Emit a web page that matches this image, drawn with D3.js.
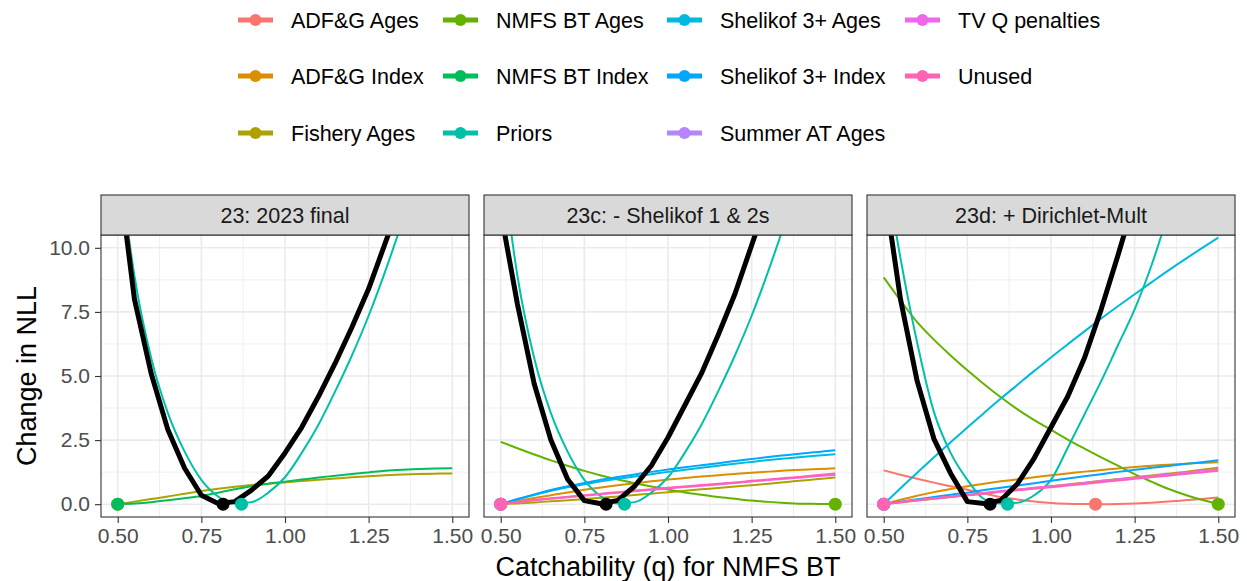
<!DOCTYPE html>
<html>
<head>
<meta charset="utf-8">
<script src="https://cdn.jsdelivr.net/npm/d3@7"></script>
<style>
body { margin: 0; background: #fff; }
text { font-family: "Liberation Sans", Arial, sans-serif; }
</style>
</head>
<body>
<div id="chart"></div>
<script>
// Width and height
var chart_width = 1247;
var chart_height = 581;

// catchability grid used for every profile
var qGrid = [0.50, 0.55, 0.60, 0.65, 0.70, 0.75, 0.80, 0.85, 0.90, 0.95, 1.00, 1.05, 1.10, 1.15, 1.20, 1.25, 1.30, 1.35, 1.40, 1.45, 1.50];

var components = ["ADF&G Ages", "ADF&G Index", "Fishery Ages", "NMFS BT Ages", "NMFS BT Index", "Priors",
  "Shelikof 3+ Ages", "Shelikof 3+ Index", "Summer AT Ages", "TV Q penalties", "Unused"];
var componentColors = ["#F8766D", "#DB8E00", "#AEA200", "#64B200", "#00BD5C", "#00C1A7",
  "#00BADE", "#00A6FF", "#B385FF", "#EF67EB", "#FF63B6"];

var panelTitles = ["23: 2023 final", "23c: - Shelikof 1 & 2s", "23d: + Dirichlet-Mult"];
var xTicks = [0.50, 0.75, 1.00, 1.25, 1.50];
var yTicks = [0, 2.5, 5, 7.5, 10];
var totalMinQ = [0.815, 0.815, 0.818];

// 23: 2023 final
var total_23 = [13.2, 8.0, 5.1, 2.9, 1.4, 0.35, 0.03, 0.1, 0.55, 1.1, 2.0, 3.0, 4.2, 5.5, 6.9, 8.4, 10.2, 12.0, 14.0, 16.0, 18.0];
var priors_23 = [13.8, 8.9, 5.7, 3.55, 2.05, 0.95, 0.3, 0.03, 0.08, 0.45, 1.05, 2.0, 3.1, 4.4, 5.8, 7.35, 9.1, 11.0, 13.0, 15.0, 17.0];
var fishAges_23 = [0, 0.1, 0.2, 0.3, 0.41, 0.51, 0.6, 0.68, 0.75, 0.8, 0.85, 0.9, 0.95, 1.0, 1.05, 1.09, 1.13, 1.16, 1.18, 1.19, 1.2];
var btIndex_23 = [0, 0.03, 0.08, 0.15, 0.23, 0.32, 0.45, 0.58, 0.7, 0.8, 0.88, 0.96, 1.04, 1.11, 1.18, 1.24, 1.3, 1.34, 1.37, 1.39, 1.4];
var mins_23 = [["Fishery Ages", 0.5], ["NMFS BT Index", 0.5], ["Priors", 0.87]];

// 23c: - Shelikof 1 & 2s
var total_23c = [11.4, 7.8, 4.7, 2.5, 0.97, 0.14, 0.02, 0.15, 0.7, 1.5, 2.6, 3.85, 5.1, 6.6, 8.2, 10.1, 12.0, 14.0, 16.5, 19.0, 21.5];
var priors_23c = [13.8, 8.9, 5.7, 3.55, 2.05, 0.95, 0.3, 0.03, 0.08, 0.45, 1.05, 2.0, 3.1, 4.4, 5.8, 7.35, 9.1, 11.0, 13.0, 15.0, 17.0];
var btAges_23c = [2.43, 2.18, 1.94, 1.71, 1.5, 1.3, 1.12, 0.96, 0.82, 0.69, 0.57, 0.46, 0.37, 0.28, 0.21, 0.14, 0.09, 0.05, 0.02, 0.01, 0];
var shelAges_23c = [0, 0.19, 0.36, 0.52, 0.66, 0.78, 0.89, 0.99, 1.08, 1.17, 1.26, 1.34, 1.42, 1.5, 1.58, 1.65, 1.72, 1.78, 1.84, 1.9, 1.95];
var shelIndex_23c = [0, 0.2, 0.38, 0.55, 0.7, 0.83, 0.95, 1.06, 1.16, 1.26, 1.35, 1.44, 1.52, 1.6, 1.68, 1.76, 1.84, 1.91, 1.98, 2.04, 2.1];
var adfgIndex_23c = [0, 0.12, 0.24, 0.35, 0.46, 0.56, 0.65, 0.74, 0.82, 0.89, 0.96, 1.02, 1.08, 1.13, 1.18, 1.23, 1.27, 1.31, 1.34, 1.37, 1.4];
var fishAges_23c = [0, 0.03, 0.07, 0.11, 0.15, 0.2, 0.25, 0.3, 0.36, 0.41, 0.47, 0.52, 0.58, 0.63, 0.69, 0.74, 0.8, 0.86, 0.92, 0.98, 1.04];
var tvq_23c = [0, 0.08, 0.15, 0.21, 0.27, 0.33, 0.39, 0.45, 0.5, 0.56, 0.61, 0.67, 0.72, 0.77, 0.83, 0.88, 0.94, 0.99, 1.04, 1.1, 1.14];
var unused_23c = [0, 0.09, 0.16, 0.23, 0.29, 0.35, 0.41, 0.47, 0.53, 0.58, 0.64, 0.69, 0.75, 0.8, 0.85, 0.91, 0.96, 1.02, 1.07, 1.14, 1.2];
var mins_23c = [["ADF&G Index", 0.5], ["Fishery Ages", 0.5], ["NMFS BT Ages", 1.5], ["Priors", 0.87],
  ["Shelikof 3+ Ages", 0.5], ["Shelikof 3+ Index", 0.5], ["TV Q penalties", 0.5], ["Unused", 0.5]];

// 23d: + Dirichlet-Mult
var total_23d = [12.5, 8.0, 4.8, 2.55, 1.2, 0.1, 0.03, 0.15, 0.8, 1.8, 3.0, 4.2, 5.7, 7.6, 9.7, 11.9, 14.2, 16.5, 18.9, 21.3, 23.8];
var priors_23d = [13.5, 9.6, 6.3, 3.6, 2.0, 0.95, 0.2, 0.03, 0.06, 0.35, 0.95, 2.2, 3.5, 4.8, 6.2, 7.6, 9.3, 11.3, 13.3, 15.5, 17.7];
var adfgAges_23d = [1.32, 1.15, 0.99, 0.84, 0.7, 0.56, 0.42, 0.28, 0.18, 0.1, 0.05, 0.02, 0.003, 0, 0.01, 0.03, 0.06, 0.1, 0.15, 0.2, 0.26];
var adfgIndex_23d = [0, 0.17, 0.33, 0.47, 0.59, 0.7, 0.8, 0.89, 0.97, 1.05, 1.13, 1.2, 1.27, 1.33, 1.39, 1.45, 1.5, 1.54, 1.58, 1.61, 1.64];
var fishAges_23d = [0, 0.07, 0.14, 0.21, 0.28, 0.35, 0.42, 0.49, 0.56, 0.63, 0.7, 0.77, 0.84, 0.91, 0.98, 1.05, 1.12, 1.19, 1.26, 1.34, 1.42];
var btAges_23d = [8.85, 7.95, 7.1, 6.42, 5.8, 5.22, 4.68, 4.17, 3.7, 3.28, 2.9, 2.52, 2.17, 1.83, 1.5, 1.17, 0.88, 0.6, 0.37, 0.17, 0];
var shelAges_23d = [0, 0.62, 1.23, 1.83, 2.42, 2.99, 3.56, 4.12, 4.66, 5.2, 5.72, 6.24, 6.74, 7.24, 7.72, 8.19, 8.65, 9.11, 9.55, 9.98, 10.4];
var shelIndex_23d = [0, 0.1, 0.19, 0.28, 0.37, 0.45, 0.55, 0.64, 0.73, 0.82, 0.91, 1.0, 1.09, 1.17, 1.26, 1.34, 1.42, 1.49, 1.57, 1.64, 1.71];
var tvq_23d = [0, 0.08, 0.16, 0.23, 0.3, 0.37, 0.44, 0.51, 0.57, 0.64, 0.7, 0.76, 0.83, 0.9, 0.97, 1.03, 1.1, 1.16, 1.23, 1.3, 1.36];
var unused_23d = [0, 0.08, 0.15, 0.22, 0.28, 0.35, 0.41, 0.48, 0.54, 0.6, 0.66, 0.73, 0.79, 0.86, 0.92, 0.99, 1.05, 1.11, 1.18, 1.24, 1.3];
var mins_23d = [["ADF&G Ages", 1.133], ["ADF&G Index", 0.5], ["Fishery Ages", 0.5], ["NMFS BT Ages", 1.5], ["Priors", 0.87],
  ["Shelikof 3+ Ages", 0.5], ["Shelikof 3+ Index", 0.5], ["TV Q penalties", 0.5], ["Unused", 0.5]];

var panels = [
  {total: total_23, mins: mins_23, series: [
    ["Fishery Ages", fishAges_23], ["NMFS BT Index", btIndex_23], ["Priors", priors_23]]},
  {total: total_23c, mins: mins_23c, series: [
    ["ADF&G Index", adfgIndex_23c], ["Fishery Ages", fishAges_23c], ["NMFS BT Ages", btAges_23c], ["Priors", priors_23c],
    ["Shelikof 3+ Ages", shelAges_23c], ["Shelikof 3+ Index", shelIndex_23c], ["TV Q penalties", tvq_23c], ["Unused", unused_23c]]},
  {total: total_23d, mins: mins_23d, series: [
    ["ADF&G Ages", adfgAges_23d], ["ADF&G Index", adfgIndex_23d], ["Fishery Ages", fishAges_23d], ["NMFS BT Ages", btAges_23d],
    ["Priors", priors_23d], ["Shelikof 3+ Ages", shelAges_23d], ["Shelikof 3+ Index", shelIndex_23d],
    ["TV Q penalties", tvq_23d], ["Unused", unused_23d]]}
];

var color = d3.scaleOrdinal().domain(components).range(componentColors);

var svg = d3.select("#chart").append("svg")
  .attr("width", chart_width)
  .attr("height", chart_height);

// layout of the facets
var panelLeft = [101, 484, 867];
var panelWidth = 368;
var stripTop = 195, plotTop = 235, plotBottom = 517;

var y = d3.scaleLinear().domain([-0.5, 10.5]).range([plotBottom, plotTop]);

panels.forEach(function(p, i) {
  var x = d3.scaleLinear().domain([0.45, 1.55]).range([panelLeft[i], panelLeft[i] + panelWidth]);
  var g = svg.append("g");

  g.append("clipPath").attr("id", "clip" + i).append("rect")
    .attr("x", panelLeft[i]).attr("y", plotTop).attr("width", panelWidth).attr("height", plotBottom - plotTop);

  //minor grid then major grid
  g.selectAll(".xminor").data([0.625, 0.875, 1.125, 1.375]).enter().append("line")
    .attr("x1", function(d) { return x(d); }).attr("x2", function(d) { return x(d); })
    .attr("y1", plotTop).attr("y2", plotBottom).attr("stroke", "#EBEBEB").attr("stroke-width", 0.8);
  g.selectAll(".yminor").data([1.25, 3.75, 6.25, 8.75]).enter().append("line")
    .attr("x1", panelLeft[i]).attr("x2", panelLeft[i] + panelWidth)
    .attr("y1", function(d) { return y(d); }).attr("y2", function(d) { return y(d); })
    .attr("stroke", "#EBEBEB").attr("stroke-width", 0.8);
  g.selectAll(".xmajor").data(xTicks).enter().append("line")
    .attr("x1", function(d) { return x(d); }).attr("x2", function(d) { return x(d); })
    .attr("y1", plotTop).attr("y2", plotBottom).attr("stroke", "#EBEBEB").attr("stroke-width", 1.6);
  g.selectAll(".ymajor").data(yTicks).enter().append("line")
    .attr("x1", panelLeft[i]).attr("x2", panelLeft[i] + panelWidth)
    .attr("y1", function(d) { return y(d); }).attr("y2", function(d) { return y(d); })
    .attr("stroke", "#EBEBEB").attr("stroke-width", 1.6);

  var plot = g.append("g").attr("clip-path", "url(#clip" + i + ")");

  var smooth = d3.line()
    .x(function(d, j) { return x(qGrid[j]); })
    .y(function(d) { return y(d); })
    .curve(d3.curveMonotoneX);
  var straight = d3.line()
    .x(function(d, j) { return x(qGrid[j]); })
    .y(function(d) { return y(d); });

  plot.selectAll(".comp").data(p.series).enter().append("path")
    .attr("d", function(d) { return smooth(d[1]); })
    .attr("fill", "none")
    .attr("stroke", function(d) { return color(d[0]); })
    .attr("stroke-width", 2);

  plot.append("path")
    .attr("d", straight(p.total))
    .attr("fill", "none")
    .attr("stroke", "black")
    .attr("stroke-width", 5)
    .attr("stroke-linejoin", "round");

  plot.selectAll(".minpt").data(p.mins).enter().append("circle")
    .attr("cx", function(d) { return x(d[1]); })
    .attr("cy", y(0))
    .attr("r", 6.5)
    .attr("fill", function(d) { return color(d[0]); });

  plot.append("circle")
    .attr("cx", x(totalMinQ[i])).attr("cy", y(0)).attr("r", 6.5).attr("fill", "black");

  //panel border
  g.append("rect")
    .attr("x", panelLeft[i]).attr("y", plotTop).attr("width", panelWidth).attr("height", plotBottom - plotTop)
    .attr("fill", "none").attr("stroke", "#333333").attr("stroke-width", 1.1);

  //strip
  g.append("rect")
    .attr("x", panelLeft[i]).attr("y", stripTop).attr("width", panelWidth).attr("height", plotTop - stripTop)
    .attr("fill", "#D9D9D9").attr("stroke", "#333333").attr("stroke-width", 1.1);
  g.append("text")
    .attr("x", panelLeft[i] + panelWidth / 2).attr("y", (stripTop + plotTop) / 2)
    .attr("dy", "0.36em")
    .attr("text-anchor", "middle")
    .attr("font-size", "21.5px")
    .attr("fill", "#1A1A1A")
    .text(panelTitles[i]);

  //x axis
  var xAxis = g.append("g")
    .attr("transform", "translate(0," + plotBottom + ")")
    .call(d3.axisBottom(x).tickValues(xTicks).tickFormat(d3.format(".2f")).tickSize(6).tickPadding(5));
  xAxis.select(".domain").remove();
  xAxis.selectAll(".tick line").attr("stroke", "#333333").attr("stroke-width", 1.1);
  xAxis.selectAll(".tick text").attr("fill", "#4D4D4D").attr("font-size", "21px").attr("font-family", "Liberation Sans, Arial, sans-serif");

  if (i === 0) {
    var yAxis = g.append("g")
      .attr("transform", "translate(" + panelLeft[i] + ",0)")
      .call(d3.axisLeft(y).tickValues(yTicks).tickFormat(d3.format(".1f")).tickSize(6).tickPadding(5));
    yAxis.select(".domain").remove();
    yAxis.selectAll(".tick line").attr("stroke", "#333333").attr("stroke-width", 1.1);
    yAxis.selectAll(".tick text").attr("fill", "#4D4D4D").attr("font-size", "21px").attr("font-family", "Liberation Sans, Arial, sans-serif");
  }
});

//axis titles
svg.append("text")
  .attr("x", (panelLeft[0] + panelLeft[2] + panelWidth) / 2).attr("y", 576)
  .attr("text-anchor", "middle").attr("font-size", "27px").attr("fill", "black")
  .text("Catchability (q) for NMFS BT");
svg.append("text")
  .attr("transform", "translate(36," + (plotTop + plotBottom) / 2 + ") rotate(-90)")
  .attr("text-anchor", "middle").attr("font-size", "27px").attr("fill", "black")
  .text("Change in NLL");

//legend, filled column by column
var legendKeyX = [238, 443, 667, 905];
var legendRowY = [20, 76, 133];
var legend = svg.selectAll(".legend").data(components).enter().append("g")
  .attr("transform", function(d, k) {
    return "translate(" + legendKeyX[Math.floor(k / 3)] + "," + legendRowY[k % 3] + ")";
  });
legend.append("line")
  .attr("x1", 0).attr("x2", 35).attr("y1", 0).attr("y2", 0)
  .attr("stroke", function(d) { return color(d); }).attr("stroke-width", 5);
legend.append("circle")
  .attr("cx", 17.5).attr("cy", 0).attr("r", 6)
  .attr("fill", function(d) { return color(d); });
legend.append("text")
  .attr("x", 53).attr("dy", "0.36em")
  .attr("font-size", "21.5px").attr("fill", "black")
  .text(function(d) { return d; });
</script>
</body>
</html>
